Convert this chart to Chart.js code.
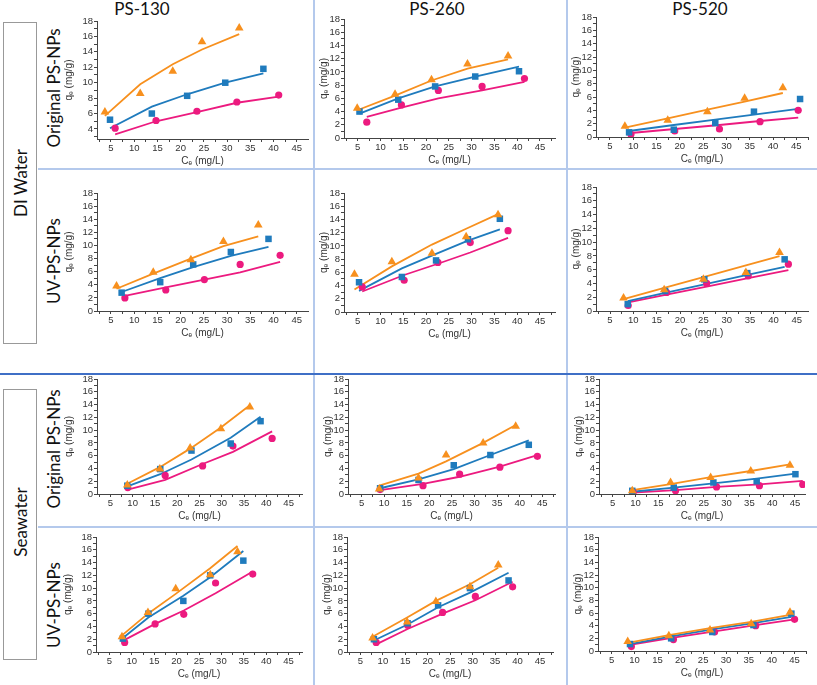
<!DOCTYPE html>
<html>
<head>
<title>PS-NPs adsorption isotherms</title>
<script src="https://cdn.jsdelivr.net/npm/chart.js"></script>
<style>
  body { margin:0; width:817px; height:685px; position:relative; background:#fff; overflow:hidden; font-family:"Lato", "Open Sans", sans-serif; color:#111; }
  .panel { position:absolute; }
  .hdr { position:absolute; top:-2px; font-size:17px; transform:translateX(-50%); white-space:nowrap; }
  .rot { position:absolute; transform:translate(-50%,-50%) rotate(-90deg); white-space:nowrap; font-size:17px; }
  .box { position:absolute; border:1px solid #999; box-sizing:border-box; }
  .rule { position:absolute; }
</style>
</head>
<body>

<div class="rule" style="left:313px; top:0; width:2px; height:685px; background:#b4c9ec;"></div>
<div class="rule" style="left:566px; top:0; width:2px; height:685px; background:#b4c9ec;"></div>
<div class="rule" style="left:38px; top:168px; width:779px; height:2px; background:#b4c9ec;"></div>
<div class="rule" style="left:38px; top:526px; width:779px; height:2px; background:#b4c9ec;"></div>
<div class="rule" style="left:0; top:373px; width:817px; height:2px; background:#3f6fc6;"></div>

<div class="hdr" style="left:142px;">PS-130</div>
<div class="hdr" style="left:437px;">PS-260</div>
<div class="hdr" style="left:700px;">PS-520</div>

<div class="box" style="left:3px; top:22px; width:34px; height:322px;"></div>
<div class="rot" style="left:20px; top:183px;">DI Water</div>
<div class="box" style="left:3px; top:389px; width:34px; height:271px;"></div>
<div class="rot" style="left:20px; top:522px;">Seawater</div>

<div class="rot" style="left:53px; top:88px;">Original PS-NPs</div>
<div class="rot" style="left:53px; top:261px;">UV-PS-NPs</div>
<div class="rot" style="left:53px; top:449px;">Original PS-NPs</div>
<div class="rot" style="left:53px; top:605px;">UV-PS-NPs</div>

<script>
// series order in every panel: triangle (orange), square (blue), circle (pink)
// Ce values, measured qe values and fitted qe values

// DI water, original PS-NPs
const x_di_orig_130 = [[3.7, 11.3, 18.3, 24.6, 32.6], [4.8, 13.8, 21.4, 29.6, 37.8], [5.9, 14.7, 23.5, 32.1, 41.1]];
const q_di_orig_130 = [[6.2, 8.6, 11.5, 15.3, 17.1], [5.2, 6.0, 8.3, 10.0, 11.8], [4.1, 5.1, 6.3, 7.5, 8.4]];
const fit_di_orig_130 = [[5.7, 9.8, 12.4, 14.3, 16.3], [4.1, 6.9, 8.5, 10.0, 11.2], [3.3, 5.0, 6.2, 7.4, 8.2]];

const x_di_orig_260 = [[4.9, 13.2, 21.2, 29.1, 38.0], [5.4, 13.9, 22.0, 30.8, 40.4], [7.0, 14.6, 22.7, 32.3, 41.6]];
const q_di_orig_260 = [[4.5, 6.6, 8.8, 11.2, 12.4], [4.0, 5.8, 7.8, 9.3, 10.1], [2.4, 5.0, 7.2, 7.8, 9.0]];
const fit_di_orig_260 = [[4.2, 6.4, 8.7, 10.5, 11.9], [3.7, 6.0, 7.8, 9.3, 10.8], [3.2, 4.6, 6.0, 7.2, 8.5]];

const x_di_orig_520 = [[8.2, 17.4, 25.9, 33.9, 42.1], [9.1, 18.7, 27.6, 35.9, 45.8], [9.5, 18.9, 28.5, 37.2, 45.4]];
const q_di_orig_520 = [[1.6, 2.5, 3.8, 5.8, 7.4], [0.7, 1.1, 2.1, 3.8, 5.7], [0.4, 0.9, 1.2, 2.3, 4.0]];
const fit_di_orig_520 = [[1.4, 2.8, 4.1, 5.3, 6.6], [0.9, 1.8, 2.6, 3.35, 4.25], [0.6, 1.2, 1.8, 2.4, 2.9]];

// DI water, UV-PS-NPs
const x_di_uv_130 = [[6.2, 14.1, 22.2, 29.2, 36.7], [7.3, 15.6, 22.7, 30.8, 38.9], [8.0, 16.8, 25.1, 32.8, 41.4]];
const q_di_uv_130 = [[3.8, 5.9, 7.8, 10.6, 13.1], [2.8, 4.4, 7.1, 9.0, 11.0], [2.0, 3.2, 4.8, 7.1, 8.5]];
const fit_di_uv_130 = [[3.4, 5.7, 8.0, 9.9, 11.4], [2.9, 5.0, 6.7, 8.4, 9.8], [2.3, 3.6, 4.8, 5.9, 7.5]];

const x_di_uv_260 = [[4.3, 12.5, 21.3, 28.8, 35.8], [5.3, 14.7, 22.2, 29.2, 36.2], [6.0, 15.2, 22.6, 29.7, 38.0]];
const q_di_uv_260 = [[5.7, 7.6, 8.9, 11.4, 14.7], [4.5, 5.3, 7.8, 11.0, 14.1], [3.8, 4.8, 7.5, 10.5, 12.3]];
const fit_di_uv_260 = [[3.4, 6.9, 10.2, 12.6, 14.8], [3.2, 6.6, 8.8, 10.8, 12.5], [3.1, 5.6, 7.3, 9.0, 11.2]];

const x_di_uv_520 = [[7.9, 16.6, 25.0, 34.1, 41.3], [8.8, 16.8, 25.2, 34.4, 42.4], [8.9, 17.1, 25.7, 34.6, 43.2]];
const q_di_uv_520 = [[1.9, 3.1, 4.6, 5.6, 8.5], [1.0, 2.9, 4.6, 5.5, 7.5], [0.8, 2.7, 4.0, 5.1, 6.8]];
const fit_di_uv_520 = [[1.74, 3.36, 4.92, 6.62, 7.96], [1.45, 2.63, 3.88, 5.24, 6.42], [1.25, 2.37, 3.55, 4.76, 5.94]];

// Seawater, original PS-NPs
const x_sw_orig_130 = [[8.8, 16.1, 22.9, 29.8, 36.3], [8.8, 16.2, 23.2, 32.0, 38.7], [8.9, 17.3, 25.7, 32.5, 41.3]];
const q_sw_orig_130 = [[1.4, 3.9, 7.2, 10.2, 13.6], [1.3, 3.9, 6.8, 7.9, 11.4], [1.0, 2.9, 4.4, 7.5, 8.7]];
const fit_sw_orig_130 = [[1.6, 4.2, 7.1, 10.4, 13.9], [1.2, 3.1, 5.4, 8.8, 12.1], [0.7, 2.2, 4.7, 6.6, 9.8]];

const x_sw_orig_260 = [[8.9, 17.6, 23.7, 31.9, 39.1], [9.1, 17.6, 25.4, 33.5, 42.0], [9.1, 18.6, 26.7, 35.6, 43.9]];
const q_sw_orig_260 = [[0.8, 2.5, 6.1, 8.0, 10.6], [0.9, 2.2, 4.5, 6.1, 7.7], [0.7, 1.3, 3.1, 4.2, 5.9]];
const fit_sw_orig_260 = [[1.3, 3.2, 5.1, 8.0, 10.8], [0.9, 2.3, 3.9, 6.1, 8.4], [0.6, 1.6, 2.7, 4.3, 6.1]];

const x_sw_orig_520 = [[9.3, 17.7, 26.5, 35.3, 43.9], [9.3, 18.4, 27.1, 36.6, 45.1], [9.5, 18.8, 27.8, 37.2, 46.7]];
const q_sw_orig_520 = [[0.5, 1.8, 2.6, 3.6, 4.5], [0.5, 1.0, 1.8, 2.0, 3.1], [0.3, 0.5, 1.1, 1.3, 1.5]];
const fit_sw_orig_520 = [[0.6, 1.55, 2.65, 3.6, 4.65], [0.35, 1.0, 1.65, 2.4, 3.2], [0.2, 0.6, 1.1, 1.5, 2.05]];

// Seawater, UV-PS-NPs
const x_sw_uv_130 = [[7.8, 13.6, 19.8, 27.5, 33.6], [8.0, 13.7, 21.5, 27.5, 34.9], [8.4, 15.2, 21.6, 28.7, 37.0]];
const q_sw_uv_130 = [[2.4, 6.2, 9.9, 12.1, 15.7], [2.1, 6.0, 8.0, 12.0, 14.3], [1.5, 4.4, 5.9, 10.8, 12.2]];
const fit_sw_uv_130 = [[2.6, 6.0, 9.1, 13.1, 16.6], [2.2, 5.4, 8.8, 11.7, 15.8], [1.9, 4.4, 6.5, 9.2, 12.6]];

const x_sw_uv_260 = [[7.7, 15.4, 21.8, 29.4, 35.7], [8.0, 15.5, 22.3, 29.4, 38.0], [8.5, 15.5, 23.3, 30.6, 38.9]];
const q_sw_uv_260 = [[2.2, 4.7, 7.9, 10.2, 13.6], [2.0, 4.5, 7.3, 10.0, 11.2], [1.5, 4.2, 6.2, 8.7, 10.2]];
const fit_sw_uv_260 = [[2.4, 5.4, 8.0, 10.6, 13.2], [1.8, 4.3, 7.0, 9.3, 12.4], [1.2, 3.6, 6.0, 8.1, 11.0]];

const x_sw_uv_520 = [[8.5, 17.5, 26.5, 35.5, 44.0], [9.0, 18.0, 27.0, 36.0, 44.3], [9.3, 18.5, 27.5, 36.5, 45.0]];
const q_sw_uv_520 = [[1.5, 2.4, 3.3, 4.3, 6.1], [1.1, 2.0, 3.0, 4.1, 5.9], [0.7, 1.8, 3.0, 4.0, 5.0]];
const fit_sw_uv_520 = [[1.3, 2.5, 3.6, 4.6, 5.7], [1.1, 2.3, 3.4, 4.4, 5.4], [1.0, 2.1, 3.1, 4.1, 5.0]];

// axis ticks
const xTickLabels = [5, 10, 15, 20, 25, 30, 35, 40, 45];
const xMinorTicks = [2.5, 7.5, 12.5, 17.5, 22.5, 27.5, 32.5, 37.5, 42.5, 47.5];
const yTickLabels = [0, 2, 4, 6, 8, 10, 12, 14, 16, 18];
const yMinorTicks = [1, 3, 5, 7, 9, 11, 13, 15, 17];

const colors = ['#f7901e', '#1f7bbd', '#ec1a7f'];
const shapes = ['triangle', 'rect', 'circle'];
const sizes = [5, 4.6, 3.6];

// page layout: L/R = plot area left/right, T = top (y max), B = bottom (y min)
const panels = [
  { x: x_di_orig_130, q: q_di_orig_130, fit: fit_di_orig_130, L: 97, R: 308, T: 20.7, B: 138.3, xmax: 47.4, ymin: 2.7, yw: 36 },
  { x: x_di_orig_260, q: q_di_orig_260, fit: fit_di_orig_260, L: 344, R: 555, T: 19, B: 137.7, xmax: 48.3, ymin: 0, yw: 28 },
  { x: x_di_orig_520, q: q_di_orig_520, fit: fit_di_orig_520, L: 596, R: 808, T: 16.7, B: 136.7, xmax: 47.5, ymin: 0, yw: 28 },
  { x: x_di_uv_130, q: q_di_uv_130, fit: fit_di_uv_130, L: 97, R: 308, T: 193.3, B: 311.7, xmax: 47.4, ymin: 0, yw: 36 },
  { x: x_di_uv_260, q: q_di_uv_260, fit: fit_di_uv_260, L: 344, R: 555, T: 193.3, B: 312.3, xmax: 48.3, ymin: 0, yw: 28 },
  { x: x_di_uv_520, q: q_di_uv_520, fit: fit_di_uv_520, L: 596, R: 808, T: 186.7, B: 311, xmax: 47.4, ymin: 0, yw: 28 },
  { x: x_sw_orig_130, q: q_sw_orig_130, fit: fit_sw_orig_130, L: 97, R: 302, T: 379, B: 494, xmax: 48, ymin: 0, yw: 36 },
  { x: x_sw_orig_260, q: q_sw_orig_260, fit: fit_sw_orig_260, L: 348, R: 555, T: 379, B: 494, xmax: 47.8, ymin: 0, yw: 28 },
  { x: x_sw_orig_520, q: q_sw_orig_520, fit: fit_sw_orig_520, L: 599, R: 805, T: 379, B: 494, xmax: 47.2, ymin: 0, yw: 28 },
  { x: x_sw_uv_130, q: q_sw_uv_130, fit: fit_sw_uv_130, L: 96, R: 302, T: 537, B: 651.7, xmax: 48, ymin: 0, yw: 36 },
  { x: x_sw_uv_260, q: q_sw_uv_260, fit: fit_sw_uv_260, L: 347, R: 553, T: 537, B: 651.7, xmax: 47.9, ymin: 0, yw: 28 },
  { x: x_sw_uv_520, q: q_sw_uv_520, fit: fit_sw_uv_520, L: 598, R: 806, T: 537, B: 651, xmax: 47.5, ymin: 0, yw: 28 }
];

const FONT = 'Liberation Sans, Arial, sans-serif';
const XH = 30, PADT = 8, PADR = 6;

function tickSet(majors, minors, lo, hi) {
  return majors.concat(minors).filter(v => v >= lo - 1e-9 && v <= hi + 1e-9)
    .sort((a, b) => a - b).map(v => ({ value: v }));
}

panels.forEach((p, i) => {
  const w = p.R - p.L + p.yw + PADR;
  const h = p.B - p.T + PADT + XH;
  const div = document.createElement('div');
  div.className = 'panel';
  div.style.left = (p.L - p.yw) + 'px';
  div.style.top = (p.T - PADT) + 'px';
  const cv = document.createElement('canvas');
  cv.width = Math.round(w);
  cv.height = Math.round(h);
  cv.style.width = Math.round(w) + 'px';
  cv.style.height = Math.round(h) + 'px';
  div.appendChild(cv);
  document.body.appendChild(div);

  const datasets = [];
  for (let s = 0; s < 3; s++) {
    datasets.push({
      data: p.x[s].map((v, k) => ({ x: v, y: p.q[s][k] })),
      pointStyle: shapes[s],
      pointRadius: sizes[s],
      backgroundColor: colors[s],
      borderColor: colors[s],
      borderWidth: 0,
      showLine: false,
      order: 0
    });
    datasets.push({
      data: p.x[s].map((v, k) => ({ x: v, y: p.fit[s][k] })),
      borderColor: colors[s],
      borderWidth: 1.8,
      pointRadius: 0,
      showLine: true,
      fill: false,
      order: 1
    });
  }

  const axisCommon = {
    border: { display: true, color: '#444', width: 1 },
    grid: { display: true, drawOnChartArea: false, drawTicks: true, tickLength: 3, tickColor: '#444' }
  };

  new Chart(cv, {
    type: 'scatter',
    data: { datasets: datasets },
    options: {
      responsive: false,
      animation: false,
      layout: { padding: { top: PADT, right: PADR, left: 0, bottom: 0 } },
      plugins: { legend: { display: false }, tooltip: { enabled: false } },
      scales: {
        x: {
          type: 'linear', min: 2, max: p.xmax,
          ...axisCommon,
          afterBuildTicks: sc => { sc.ticks = tickSet(xTickLabels, xMinorTicks, 2, p.xmax); },
          afterFit: sc => { sc.height = XH; },
          ticks: {
            autoSkip: false, maxRotation: 0, padding: 1, color: '#333',
            font: { family: FONT, size: 9.5 },
            callback: v => xTickLabels.includes(v) ? String(v) : ''
          },
          title: { display: true, text: 'Cₑ (mg/L)', color: '#333', font: { family: FONT, size: 10 }, padding: { top: 0, bottom: 2 } }
        },
        y: {
          type: 'linear', min: p.ymin, max: 18,
          ...axisCommon,
          afterBuildTicks: sc => { sc.ticks = tickSet(yTickLabels, yMinorTicks, p.ymin, 18); },
          afterFit: sc => { sc.width = p.yw; },
          ticks: {
            autoSkip: false, padding: 1, color: '#333',
            font: { family: FONT, size: 9.5 },
            callback: v => yTickLabels.includes(v) ? String(v) : ''
          },
          title: { display: true, text: 'qₑ (mg/g)', color: '#333', font: { family: FONT, size: 10 }, padding: { top: 2, bottom: 0 } }
        }
      }
    }
  });
});
</script>
</body>
</html>
